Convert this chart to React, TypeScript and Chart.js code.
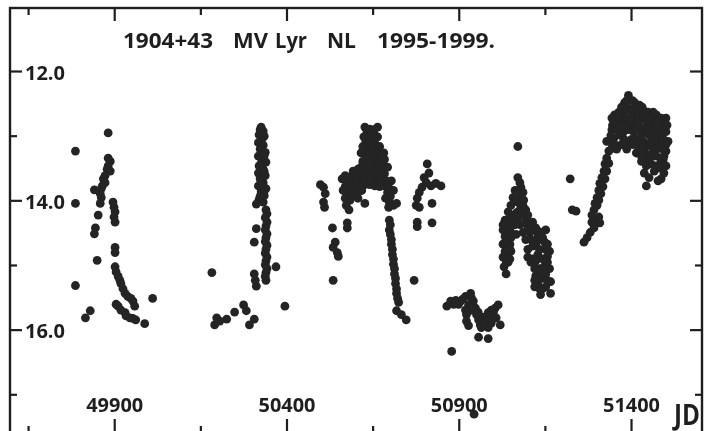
import React, { useEffect, useRef } from "react";
import { Chart, registerables } from "chart.js";

Chart.register(...registerables);

// ---- Data: [JD (2400000+), visual magnitude] per observing season ----
const season1995: [number, number][] = [
  [49786, 13.23], [49786, 14.04], [49786, 15.31], [49881, 12.95], [49881, 13.34], [49887, 13.39],
  [49881, 13.46], [49878, 13.51], [49887, 13.54], [49872, 13.61], [49867, 13.66], [49872, 13.72],
  [49864, 13.77], [49861, 13.81], [49858, 13.89], [49841, 13.83], [49861, 13.95], [49858, 14.04],
  [49852, 14.22], [49844, 14.42], [49841, 14.51], [49849, 14.92], [49829, 15.70], [49815, 15.81],
  [49895, 14.02], [49898, 14.10], [49901, 14.17], [49898, 14.25], [49901, 14.33], [49901, 14.72],
  [49901, 14.80], [49901, 15.02], [49904, 15.10], [49910, 15.17], [49915, 15.23], [49918, 15.28],
  [49924, 15.36], [49930, 15.43], [49938, 15.48], [49947, 15.51], [49953, 15.55], [49958, 15.63],
  [49904, 15.60], [49910, 15.63], [49918, 15.69], [49930, 15.73], [49933, 15.78], [49944, 15.81],
  [49953, 15.82], [49961, 15.84], [49987, 15.90], [50010, 15.51],
];

const season1996: [number, number][] = [
  [50182, 15.11], [50190, 15.92], [50196, 15.81], [50205, 15.86], [50225, 15.83], [50248, 15.72],
  [50274, 15.61], [50282, 15.70], [50305, 15.83], [50291, 15.92], [50394, 15.63],
  [50325, 12.86], [50331, 12.92], [50319, 12.98], [50328, 13.04], [50317, 13.10], [50331, 13.14],
  [50322, 13.20], [50337, 13.25], [50317, 13.31], [50328, 13.36], [50339, 13.40], [50319, 13.46],
  [50331, 13.51], [50317, 13.57], [50337, 13.61], [50322, 13.66], [50331, 13.72], [50317, 13.77],
  [50339, 13.81], [50325, 13.86], [50334, 13.92], [50319, 13.98], [50331, 14.02], [50311, 14.05],
  [50322, 12.90], [50334, 13.00], [50325, 13.17], [50334, 13.30], [50325, 13.42], [50334, 13.55],
  [50325, 13.70], [50334, 13.85], [50322, 13.93],
  [50339, 14.14], [50342, 14.20], [50337, 14.26], [50342, 14.33], [50339, 14.39], [50337, 14.45],
  [50342, 14.51], [50339, 14.57], [50337, 14.63], [50342, 14.69], [50339, 14.75], [50337, 14.81],
  [50342, 14.87], [50339, 14.93], [50337, 14.99], [50342, 15.05], [50339, 15.11], [50337, 15.17],
  [50339, 15.23], [50368, 15.02],
  [50311, 14.43], [50305, 14.64], [50305, 15.13], [50308, 15.23], [50311, 15.32],
];

const season1997: [number, number][] = [
  [50497, 13.75], [50506, 13.79], [50511, 13.89], [50506, 14.02], [50509, 14.10], [50532, 14.42],
  [50540, 14.64], [50534, 14.72], [50546, 14.80], [50549, 14.86], [50534, 15.23],
  [50626, 12.86], [50640, 12.89], [50663, 12.86], [50632, 12.95], [50655, 12.98], [50646, 13.04],
  [50629, 13.08], [50640, 13.13], [50655, 13.11], [50635, 13.20], [50649, 13.23], [50663, 13.20],
  [50626, 13.28], [50640, 13.33], [50658, 13.34], [50669, 13.31], [50620, 13.39], [50635, 13.42],
  [50649, 13.43], [50663, 13.42], [50678, 13.46], [50629, 13.51], [50643, 13.54], [50658, 13.54],
  [50672, 13.55], [50683, 13.58], [50617, 13.61], [50632, 13.64], [50646, 13.66], [50660, 13.66],
  [50675, 13.69], [50689, 13.69], [50612, 13.72], [50626, 13.75], [50640, 13.75], [50655, 13.77],
  [50669, 13.78], [50683, 13.77], [50695, 13.79],
  [50635, 12.90], [50652, 12.90], [50623, 13.01], [50640, 13.01], [50663, 13.01], [50620, 13.16],
  [50646, 13.16], [50669, 13.16], [50615, 13.26], [50658, 13.26], [50681, 13.26], [50629, 13.36],
  [50646, 13.36], [50683, 13.36], [50615, 13.48], [50640, 13.48], [50666, 13.48], [50692, 13.48],
  [50603, 13.58], [50626, 13.58], [50655, 13.58], [50669, 13.58], [50597, 13.69], [50640, 13.69],
  [50703, 13.69], [50617, 13.84], [50709, 13.84],
  [50569, 13.61], [50583, 13.63], [50597, 13.61], [50575, 13.69], [50589, 13.72], [50603, 13.70],
  [50569, 13.78], [50583, 13.81], [50597, 13.79], [50612, 13.83], [50575, 13.87], [50589, 13.90],
  [50603, 13.89], [50569, 13.96], [50583, 13.99], [50606, 13.96], [50572, 14.07], [50580, 14.14],
  [50575, 14.34], [50575, 14.42], [50626, 14.04], [50560, 13.66], [50563, 13.84], [50592, 13.54],
  [50606, 13.51],
  [50692, 13.87], [50700, 13.93], [50686, 13.96], [50697, 14.02], [50709, 14.07], [50718, 14.04],
  [50695, 14.10],
  [50697, 14.30], [50700, 14.37], [50697, 14.45], [50700, 14.52], [50703, 14.60], [50703, 14.67],
  [50706, 14.75], [50706, 14.83], [50709, 14.90], [50709, 14.98], [50712, 15.05], [50712, 15.13],
  [50715, 15.20], [50715, 15.28], [50718, 15.36], [50718, 15.43], [50721, 15.51], [50724, 15.57],
  [50718, 15.70], [50732, 15.76], [50746, 15.84], [50769, 15.23],
  [50807, 13.43], [50812, 13.57], [50798, 13.64], [50804, 13.72], [50792, 13.79], [50818, 13.77],
  [50832, 13.73], [50847, 13.77], [50784, 13.87], [50778, 13.96], [50775, 14.07], [50784, 14.10],
  [50821, 14.04], [50778, 14.33], [50778, 14.40], [50821, 14.34],
];

const season1998: [number, number][] = [
  [50864, 15.63], [50875, 15.55], [50890, 15.54], [50904, 15.55], [50918, 15.48], [50933, 15.43],
  [50936, 15.51], [50927, 15.61], [50918, 15.69], [50921, 15.76], [50921, 15.86], [50927, 15.93],
  [50941, 15.55], [50947, 15.66], [50950, 15.76], [50956, 15.84], [50961, 15.92], [50964, 15.96],
  [50976, 15.92], [50984, 15.96], [50979, 15.84], [50984, 15.73], [50993, 15.69], [50999, 15.76],
  [51004, 15.66], [51013, 15.61], [51007, 15.81], [51019, 15.92], [50993, 15.89], [50956, 16.11],
  [50984, 16.13], [50878, 16.33], [50943, 17.30],
  [50884, 15.60], [50898, 15.60], [50910, 15.52], [50930, 15.70], [50940, 15.62], [50955, 15.72],
  [50968, 15.80], [50972, 15.88], [50990, 15.80], [51000, 15.70],
  [51070, 13.16], [51070, 13.64], [51076, 13.72], [51079, 13.79], [51085, 13.87], [51076, 13.95],
  [51070, 14.02], [51079, 14.10], [51065, 14.19], [51056, 14.26], [51047, 14.26], [51042, 14.34],
  [51036, 14.45], [51033, 14.55], [51036, 14.67], [51033, 14.78], [51042, 14.87], [51042, 14.95],
  [51036, 15.13], [51090, 14.19], [51093, 14.30], [51099, 14.40], [51105, 14.49], [51108, 14.60],
  [51113, 14.70], [51119, 14.45], [51128, 14.55], [51136, 14.60], [51148, 14.64], [51151, 14.75],
  [51156, 14.86], [51156, 14.95], [51148, 15.01], [51128, 15.05], [51122, 15.16], [51133, 15.17],
  [51119, 15.33], [51133, 15.36], [51151, 15.33], [51165, 15.25], [51165, 15.43], [51151, 14.45],
  [51027, 14.45], [51027, 14.67], [51027, 14.87], [51047, 14.45], [51050, 14.57], [51047, 14.67],
  [51050, 14.78], [51047, 14.90], [51062, 14.37], [51065, 14.52], [51076, 14.37], [51085, 14.49],
  [51093, 14.60], [51099, 14.75], [51113, 14.90], [51128, 14.83], [51142, 14.90], [51136, 15.05],
  [51119, 15.05], [51108, 14.95], [51156, 15.05], [51142, 15.20], [51128, 15.28], [51070, 14.17],
  [51085, 14.07], [51093, 14.14],
  [51062, 13.84], [51056, 13.95], [51050, 14.07], [51042, 14.17], [51033, 14.30], [51027, 14.37],
  [51042, 14.52], [51033, 14.64], [51047, 14.75], [51036, 14.93], [51030, 15.02], [51070, 13.84],
  [51087, 13.99], [51070, 14.26], [51082, 14.19], [51099, 14.22], [51113, 14.33], [51122, 14.42],
  [51108, 14.45], [51133, 14.48], [51142, 14.57], [51156, 14.67], [51162, 14.78], [51122, 14.67],
  [51133, 14.75], [51099, 14.87], [51122, 14.93], [51151, 15.13], [51162, 15.05], [51142, 15.36],
  [51156, 15.23], [51119, 15.23], [51136, 15.45],
];

const season1999: [number, number][] = [
  [51222, 13.66], [51228, 14.14], [51239, 14.16],
  [51262, 14.64], [51271, 14.57], [51280, 14.49], [51291, 14.42], [51285, 14.33], [51294, 14.30],
  [51305, 14.25], [51308, 14.34], [51291, 14.14], [51294, 14.04], [51300, 13.95], [51305, 13.84],
  [51308, 13.73], [51314, 13.64], [51320, 13.54], [51323, 13.43], [51328, 13.34], [51334, 13.23],
  [51328, 13.08], [51343, 13.19], [51300, 14.07], [51305, 13.99], [51311, 13.89], [51317, 13.78],
  [51323, 13.66], [51328, 13.54], [51334, 13.42], [51285, 14.22],
  [51391, 12.37], [51380, 12.48], [51409, 12.48], [51423, 12.52], [51394, 12.58], [51434, 12.60],
  [51351, 12.67], [51371, 12.67], [51443, 12.67], [51472, 12.67], [51406, 12.73], [51423, 12.75],
  [51386, 12.81], [51357, 12.89], [51377, 12.93], [51406, 12.93], [51434, 12.89], [51463, 12.83],
  [51486, 12.89], [51500, 12.93], [51492, 13.04], [51500, 13.13], [51480, 13.19], [51463, 13.23],
  [51443, 13.28], [51429, 13.39], [51500, 13.23], [51492, 13.36], [51434, 13.08], [51414, 13.04],
  [51451, 12.98], [51472, 13.05], [51348, 13.04], [51377, 13.04], [51400, 13.05], [51457, 13.43],
  [51466, 13.54], [51451, 13.64], [51443, 13.77], [51486, 13.66], [51480, 13.49],
  [51363, 12.78], [51457, 12.75], [51477, 12.78], [51494, 12.78], [51337, 13.08], [51363, 12.98],
  [51386, 13.08], [51420, 13.16], [51443, 13.16], [51457, 13.08], [51472, 13.31], [51486, 13.39],
  [51500, 13.46], [51506, 13.08], [51414, 13.26], [51449, 13.36],
  [51386, 12.45], [51403, 12.45], [51371, 12.55], [51386, 12.55], [51414, 12.55], [51431, 12.55],
  [51363, 12.63], [51380, 12.63], [51403, 12.63], [51420, 12.63], [51449, 12.63], [51463, 12.63],
  [51343, 12.72], [51380, 12.72], [51386, 12.72], [51437, 12.72], [51454, 12.72], [51486, 12.72],
  [51500, 12.72], [51345, 12.83], [51368, 12.83], [51403, 12.83], [51420, 12.83], [51443, 12.83],
  [51503, 12.83], [51343, 12.90], [51391, 12.90], [51420, 12.90], [51449, 12.90], [51472, 12.90],
  [51340, 12.99], [51429, 12.99], [51466, 12.99], [51486, 12.99], [51351, 13.13], [51371, 13.13],
  [51403, 13.13], [51457, 13.13], [51477, 13.13], [51357, 13.20], [51386, 13.20], [51434, 13.20],
  [51492, 13.20], [51429, 13.31], [51457, 13.31], [51494, 13.31], [51443, 13.46], [51472, 13.46],
  [51437, 13.57], [51494, 13.57], [51477, 13.69],
];

const seasons = [season1995, season1996, season1997, season1998, season1999];

// ---- Axis ticks and labels ----
const xMajorTicks = [49900, 50400, 50900, 51400];
const xMinorTicks = [49650, 50150, 50650, 51150];
const xTickLabels = ["49900", "50400", "50900", "51400"];
const yMajorTicks = [12, 14, 16];
const yMinorTicks = [13, 15, 17];
const yTickLabels = ["12.0", "14.0", "16.0"];
const xAxisTitle = "JD";
const titleWords = ["1904+43", "MV", "Lyr", "NL", "1995-1999."];

// ---- Layout / style constants ----
const X_RANGE = { min: 49579.8, max: 51597.6 };
const Y_RANGE = { min: 10.962, max: 17.492 };
const FRAME = { left: 10, top: 8, right: 702, bottom: 433 };
const INK = "#1e1e1e";
const DOT = "#242424";
const FONT = '"Open Sans", "DejaVu Sans", sans-serif';
const TITLE_LAYOUT = [
  { x: 123, w: 90 },
  { x: 233, w: 35 },
  { x: 275, w: 32 },
  { x: 327, w: 29 },
  { x: 377, w: 118 },
];

function drawFit(
  ctx: CanvasRenderingContext2D,
  text: string,
  x: number,
  baseline: number,
  width: number,
  size: number,
  align: "left" | "center" = "left"
) {
  ctx.font = `bold ${size}px ${FONT}`;
  const w = ctx.measureText(text).width || 1;
  const left = align === "center" ? x - width / 2 : x;
  ctx.save();
  ctx.translate(left, baseline);
  ctx.scale(width / w, 1);
  ctx.textAlign = "left";
  ctx.textBaseline = "alphabetic";
  ctx.fillText(text, 0, 0);
  ctx.restore();
}

const framePlugin = {
  id: "scanFrame",
  beforeDraw(chart: any) {
    const { ctx, width, height } = chart;
    ctx.save();
    ctx.fillStyle = "#ffffff";
    ctx.fillRect(0, 0, width, height);
    ctx.restore();
  },
  afterDatasetsDraw(chart: any) {
    const { ctx } = chart;
    const xs = chart.scales.x;
    const ys = chart.scales.y;
    ctx.save();
    ctx.strokeStyle = INK;
    ctx.fillStyle = INK;
    ctx.lineWidth = 2.4;
    ctx.lineCap = "butt";
    ctx.strokeRect(FRAME.left, FRAME.top, FRAME.right - FRAME.left, FRAME.bottom - FRAME.top);

    const seg = (x1: number, y1: number, x2: number, y2: number) => {
      ctx.beginPath();
      ctx.moveTo(x1, y1);
      ctx.lineTo(x2, y2);
      ctx.stroke();
    };
    ctx.lineWidth = 2.2;
    xMajorTicks.forEach((v) => {
      const px = xs.getPixelForValue(v);
      seg(px, FRAME.top, px, FRAME.top + 13);
      seg(px, FRAME.bottom, px, FRAME.bottom - 14);
    });
    xMinorTicks.forEach((v) => {
      const px = xs.getPixelForValue(v);
      seg(px, FRAME.top, px, FRAME.top + 7);
      seg(px, FRAME.bottom, px, FRAME.bottom - 7);
    });
    yMajorTicks.forEach((v) => {
      const py = ys.getPixelForValue(v);
      seg(FRAME.left, py, FRAME.left + 12, py);
      seg(FRAME.right, py, FRAME.right - 12, py);
    });
    yMinorTicks.forEach((v) => {
      const py = ys.getPixelForValue(v);
      seg(FRAME.left, py, FRAME.left + 7, py);
      seg(FRAME.right, py, FRAME.right - 7, py);
    });

    // labels
    yMajorTicks.forEach((v, i) => {
      const py = ys.getPixelForValue(v);
      drawFit(ctx, yTickLabels[i], 25, py + 8, 40, 20);
    });
    xMajorTicks.forEach((v, i) => {
      const px = xs.getPixelForValue(v);
      drawFit(ctx, xTickLabels[i], px, 412, 57, 20, "center");
    });
    drawFit(ctx, xAxisTitle, 674, 425, 26, 29);
    titleWords.forEach((w, i) => {
      drawFit(ctx, w, TITLE_LAYOUT[i].x, 48, TITLE_LAYOUT[i].w, 21);
    });
    ctx.restore();
  },
};

export default function App() {
  const canvasRef = useRef<HTMLCanvasElement | null>(null);

  useEffect(() => {
    if (!canvasRef.current) return;
    const chart = new Chart(canvasRef.current, {
      type: "scatter",
      data: {
        datasets: seasons.map((s, i) => ({
          label: `season ${i + 1}`,
          data: s.map(([jd, mag]) => ({ x: jd, y: mag })),
          pointRadius: 4.4,
          pointHoverRadius: 4.4,
          pointBackgroundColor: DOT,
          pointBorderColor: DOT,
          pointBorderWidth: 0,
          showLine: false,
        })),
      },
      options: {
        responsive: false,
        animation: false,
        events: [],
        layout: { padding: 0 },
        plugins: {
          legend: { display: false },
          tooltip: { enabled: false },
          title: { display: false },
        },
        scales: {
          x: { type: "linear", min: X_RANGE.min, max: X_RANGE.max, display: false },
          y: { type: "linear", min: Y_RANGE.min, max: Y_RANGE.max, reverse: true, display: false },
        },
      },
      plugins: [framePlugin],
    });
    return () => chart.destroy();
  }, []);

  return (
    <div style={{ position: "fixed", left: 0, top: 0, width: 704, height: 431, background: "#fff" }}>
      <canvas ref={canvasRef} width={704} height={431} style={{ display: "block", width: 704, height: 431 }} />
    </div>
  );
}
